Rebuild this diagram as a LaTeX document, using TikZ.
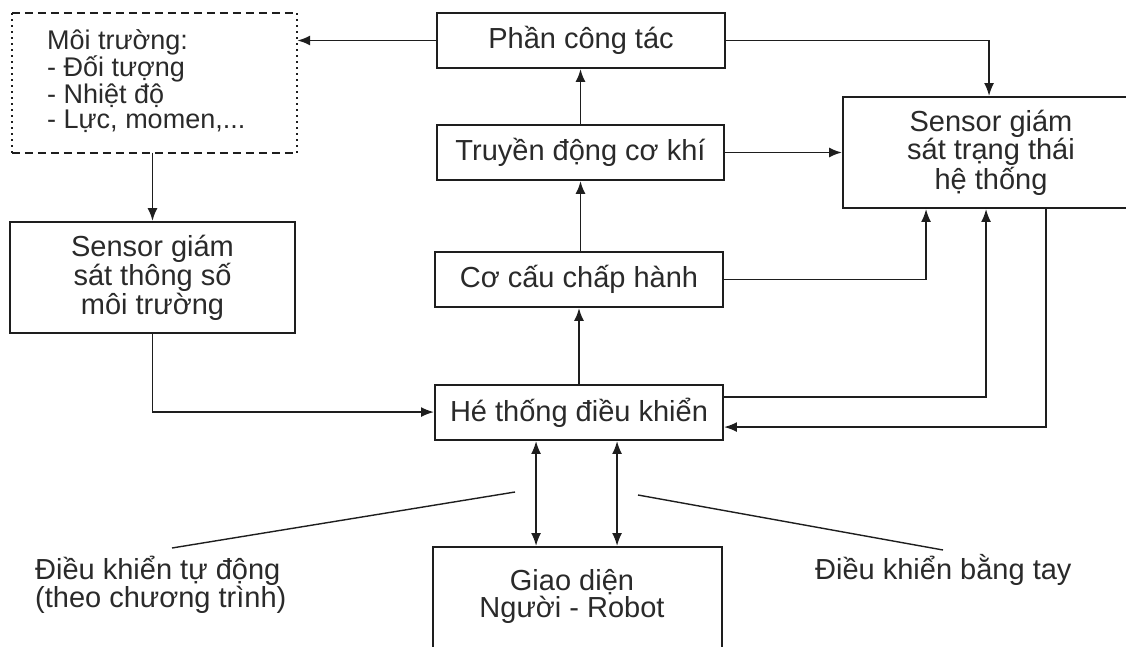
\documentclass[tikz,border=0pt]{standalone}
\usepackage{fontspec}
\setmainfont{Liberation Sans}
\usetikzlibrary{arrows.meta,calc}
\definecolor{linec}{HTML}{1E1E1E}
\definecolor{textc}{HTML}{2A2A2A}
\begin{document}
\begin{tikzpicture}[x=1pt,y=-1pt,
  box/.style={draw=linec, line width=1.9pt, minimum height=55pt, inner sep=0pt,
    text=textc, font=\fontsize{29}{25}\selectfont, align=center},
  plain/.style={text=textc, font=\fontsize{29}{26}\selectfont, inner sep=0pt},
  arr/.style={draw=linec, line width=1.9pt, -{Latex[length=13pt,width=10pt]}},
  dbl/.style={draw=linec, line width=1.9pt, {Latex[length=13pt,width=10pt]}-{Latex[length=13pt,width=10pt]}},
  thin/.style={draw=linec, line width=1.4pt},
  dashline/.style={draw=linec, line width=1.9pt, dash pattern=on 8pt off 5pt},
  dotline/.style={draw=linec, line width=2pt, dash pattern=on 2pt off 4pt}
]
\useasboundingbox (0,0) rectangle (1126,647);
\fill[white] (0,0) rectangle (1126,647);

% environment box
\node[inner sep=0pt, minimum width=285pt, minimum height=139pt] (env) at (154.5,83) {};
\draw[dashline] (env.north west) -- (env.north east);
\draw[dashline] (env.south west) -- (env.south east);
\draw[dotline] (env.north west) -- (env.south west);
\draw[dotline] (env.north east) -- (env.south east);
\node[plain, align=left, anchor=west, font=\fontsize{27}{25}\selectfont] (envtext) at (47,81)
  {Môi trường:\\- Đối tượng\\- Nhiệt độ\\- Lực, momen,...};

% boxes
\node[box, minimum width=288pt] (pct) at (581,40.5) {Phần công tác};
\node[box, minimum width=287pt] (td) at (580.5,152.5) {Truyền động cơ khí};
\node[box, minimum width=288pt] (cc) at (579,279.5) {Cơ cấu chấp hành};
\node[box, minimum width=288pt] (ht) at (579,412.5) {Hé thống điều khiển};
\node[box, minimum width=296pt, minimum height=111pt] (sst) at (991,152.5)
  {Sensor giám\\sát trạng thái\\hệ thống};
\node[box, minimum width=285pt, minimum height=111pt] (ssm) at (152.5,277.5)
  {Sensor giám\\sát thông số\\môi trường};
\node[box, minimum width=289pt, minimum height=113pt] (gd) at (577.5,603.5) {};
\node[plain, align=center, font=\fontsize{29}{27}\selectfont] (gdtext) at (572,596)
  {Giao diện\\Người - Robot};

% labels
\node[plain, align=left, anchor=west] (auto) at (35,585)
  {Điều khiển tự động\\(theo chương trình)};
\node[plain, anchor=west] (manual) at (815,570) {Điều khiển bằng tay};

% connectors
\draw[arr] (pct.west) -- (pct.west -| env.east);
\draw[arr] (pct.east) -| ($(sst.north west)+(147,0)$);
\draw[arr] (td.north) -- (td.north |- pct.south);
\draw[arr] (cc.north -| td.south) -- (td.south);
\draw[arr] (ht.north) -- (cc.south);
\draw[arr] (td.east) -- (td.east -| sst.west);
\draw[arr] (cc.east) -| ($(sst.south west)+(84,0)$);
\draw[arr] ($(ht.north east)+(0,13)$) -| ($(sst.south west)+(144,0)$);
\draw[arr] ($(sst.south west)+(204,0)$) |- ($(ht.north east)+(0,43)$);
\draw[arr] (env.south -| ssm.north) -- (ssm.north);
\draw[arr] (ssm.south) |- ($(ht.north west)+(0,28)$);
\draw[dbl] ($(gd.north west)+(104,0)$) -- ($(ht.south west)+(102,0)$);
\draw[dbl] ($(gd.north west)+(185,0)$) -- ($(ht.south west)+(183,0)$);

% pointer lines
\coordinate (la) at (515,492);
\coordinate (lb) at (172,548);
\coordinate (ra) at (638,495);
\coordinate (rb) at (943,550);
\draw[thin] (la) -- (lb);
\draw[thin] (ra) -- (rb);
\end{tikzpicture}
\end{document}
